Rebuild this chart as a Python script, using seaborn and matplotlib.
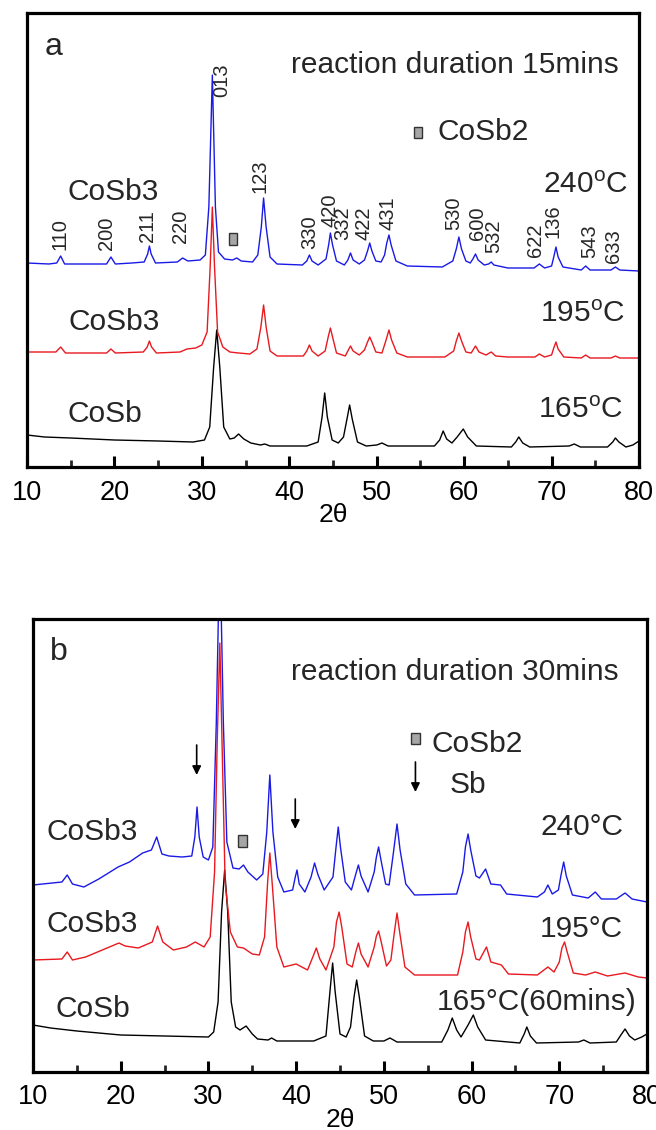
import matplotlib
matplotlib.use("Agg")
import matplotlib.pyplot as plt
from matplotlib.patches import Rectangle
import seaborn as sns
import pandas as pd

# ---------------- data (2theta, intensity in arbitrary units) ----------------
blue_a = [(10, 204), (12.5, 203), (13.4, 204), (13.85, 211), (14.3, 203), (17, 203), (19.1, 203), (19.6, 210),
          (20.1, 203), (22, 204), (23.4, 205), (23.8, 213), (24.0, 221), (24.2, 213), (24.7, 204), (27.2, 205),
          (27.8, 209), (28.4, 206), (29.8, 207), (30.4, 212), (30.8, 260), (31.2, 392), (31.55, 260), (31.9, 215),
          (32.6, 208), (33.5, 207), (34.0, 209), (34.5, 206), (35.8, 205), (36.4, 212), (36.8, 240), (37.06, 269),
          (37.35, 240), (37.8, 210), (38.6, 203), (41.5, 202), (42.0, 206), (42.3, 212), (42.6, 206), (43.3, 202),
          (44.2, 208), (44.5, 222), (44.7, 234), (44.95, 222), (45.4, 206), (46.3, 202), (46.7, 207), (47.0, 214),
          (47.3, 207), (48.0, 203), (48.6, 207), (48.95, 216), (49.2, 224), (49.45, 216), (49.9, 206), (50.5, 205),
          (50.9, 212), (51.15, 224), (51.4, 232), (51.65, 222), (52.2, 206), (53.5, 201), (57.5, 200), (58.7, 206),
          (59.1, 218), (59.4, 230), (59.7, 218), (60.2, 206), (60.7, 204), (61.0, 208), (61.3, 213), (61.6, 207),
          (62.3, 202), (62.8, 203), (63.1, 205), (63.4, 202), (65.0, 199), (68.0, 199), (68.6, 203), (69.2, 199),
          (70.0, 201), (70.25, 210), (70.5, 220), (70.75, 210), (71.3, 200), (73.4, 197), (73.9, 201), (74.4, 197),
          (76.8, 197), (77.3, 200), (77.8, 197), (80, 196)]
red_a = [(10, 115), (13.3, 115), (13.85, 120), (14.4, 114), (19.1, 114), (19.6, 118), (20.1, 114), (23.3, 115),
         (23.75, 120), (24.0, 126), (24.25, 120), (24.8, 114), (27.5, 115), (28.3, 118), (29.3, 119), (30.0, 122),
         (30.6, 135), (30.95, 200), (31.2, 260), (31.45, 200), (31.8, 135), (32.4, 120), (33.2, 115), (34.2, 114),
         (35.5, 113), (36.3, 118), (36.75, 140), (37.06, 162), (37.35, 140), (37.8, 116), (38.6, 111), (41.6, 111),
         (42.0, 116), (42.3, 122), (42.6, 116), (43.3, 111), (44.1, 116), (44.45, 130), (44.7, 139), (44.95, 130),
         (45.4, 114), (46.4, 111), (46.7, 116), (47.0, 121), (47.3, 116), (48.0, 112), (48.6, 117), (48.95, 125),
         (49.2, 130), (49.45, 125), (49.9, 115), (50.6, 114), (51.0, 125), (51.4, 137), (51.7, 127), (52.3, 114),
         (53.5, 110), (57.8, 110), (58.8, 116), (59.1, 126), (59.4, 134), (59.7, 126), (60.2, 115), (60.8, 114),
         (61.3, 121), (61.7, 115), (62.5, 112), (63.1, 115), (63.6, 111), (65.0, 110), (68.1, 110), (68.6, 113),
         (69.2, 110), (70.0, 112), (70.25, 119), (70.5, 125), (70.75, 118), (71.4, 110), (73.4, 109), (73.9, 112),
         (74.4, 109), (76.8, 109), (77.3, 111), (77.8, 109), (80, 109)]
black_a = [(10, 32), (12, 30), (15, 29), (20, 27), (25, 26), (29, 25), (30.3, 27), (30.9, 40), (31.35, 100),
           (31.7, 137), (32.05, 100), (32.5, 40), (33.2, 28), (33.7, 29), (34.2, 33), (34.8, 28), (35.6, 24),
           (36.7, 22), (37.2, 23), (37.8, 21), (42.0, 21), (43.3, 25), (43.75, 50), (44.05, 74), (44.35, 50),
           (44.9, 27), (45.6, 24), (46.2, 30), (46.6, 48), (46.9, 62), (47.2, 48), (47.8, 25), (48.8, 21), (50.0, 22),
           (50.6, 24), (51.3, 21), (56.6, 21), (57.2, 27), (57.6, 36), (58.0, 28), (58.6, 24), (59.2, 30), (59.9, 38),
           (60.4, 30), (61.4, 21), (65.4, 20), (65.9, 25), (66.25, 30), (66.7, 24), (67.5, 20), (72.0, 21),
           (72.6, 23), (73.3, 20), (76.4, 20), (77.0, 25), (77.3, 29), (77.7, 25), (78.5, 20), (79.3, 22), (80, 26)]

blue_b = [(10, 187), (13.3, 190), (13.9, 197), (14.5, 188), (15.8, 185), (17.5, 193), (19.7, 205), (21, 210),
          (22.5, 219), (23.5, 222), (24.1, 235), (24.7, 218), (25.5, 216), (27.0, 215), (28.1, 216), (28.45, 235),
          (28.7, 265), (28.95, 235), (29.4, 215), (30.0, 212), (30.5, 225), (30.9, 350), (31.3, 530), (31.7, 350),
          (32.1, 230), (32.8, 204), (33.5, 203), (34.0, 207), (34.5, 200), (35.5, 192), (36.2, 198), (36.65, 240),
          (37.0, 297), (37.35, 240), (37.9, 195), (38.6, 180), (39.6, 182), (39.9, 195), (40.1, 202), (40.35, 188),
          (41.0, 180), (41.7, 195), (42.1, 209), (42.5, 197), (43.2, 182), (44.2, 195), (44.55, 225), (44.8, 245),
          (45.05, 225), (45.6, 190), (46.3, 182), (46.8, 198), (47.1, 207), (47.4, 196), (48.2, 180), (48.9, 200),
          (49.15, 215), (49.4, 225), (49.65, 213), (50.2, 188), (50.6, 187), (51.1, 220), (51.5, 248), (51.85, 222),
          (52.5, 188), (53.5, 177), (58.3, 178), (59.0, 200), (59.3, 225), (59.6, 238), (59.9, 222), (60.5, 196),
          (60.9, 194), (61.6, 203), (62.2, 188), (63.3, 187), (64.0, 178), (67.5, 175), (68.3, 180), (68.7, 187),
          (69.2, 178), (69.9, 182), (70.2, 197), (70.5, 210), (70.8, 196), (71.5, 177), (73.3, 174), (74.1, 180),
          (74.8, 173), (76.5, 173), (77.5, 179), (78.3, 173), (80, 170)]
red_b = [(10, 112), (13.3, 113), (13.9, 120), (14.5, 112), (16, 115), (19.8, 129), (20.5, 126), (22.0, 124),
         (23.6, 130), (24.2, 146), (24.8, 130), (26.0, 122), (27.5, 125), (28.5, 130), (29.5, 125), (30.2, 135),
         (30.7, 200), (31.0, 330), (31.3, 429), (31.55, 330), (31.9, 190), (32.5, 140), (33.3, 125), (34.0, 124),
         (35.0, 118), (35.8, 117), (36.4, 135), (36.75, 190), (37.0, 219), (37.3, 185), (37.8, 125), (38.6, 105),
         (40.0, 108), (41.3, 102), (41.9, 115), (42.3, 124), (42.7, 113), (43.4, 102), (44.3, 125), (44.6, 150),
         (44.9, 160), (45.2, 145), (45.8, 108), (46.4, 105), (46.8, 120), (47.1, 129), (47.4, 118), (48.2, 105),
         (48.9, 125), (49.15, 136), (49.4, 141), (49.7, 130), (50.3, 106), (50.8, 112), (51.2, 140), (51.5, 159),
         (51.8, 140), (52.4, 105), (53.5, 97), (58.4, 97), (59.0, 120), (59.3, 140), (59.6, 150), (59.9, 135),
         (60.5, 113), (60.9, 112), (61.7, 125), (62.2, 110), (63.4, 107), (64.2, 98), (67.5, 97), (68.7, 105),
         (69.4, 100), (70.0, 110), (70.3, 124), (70.6, 130), (70.9, 120), (71.6, 99), (73.0, 97), (74.1, 100),
         (75.5, 96), (77.5, 99), (79, 95), (80, 94)]
black_b = [(10, 47), (12, 44), (15, 41), (20, 37), (25, 36), (30, 35), (30.6, 40), (31.1, 70), (31.5, 160),
           (31.85, 202), (32.2, 160), (32.6, 70), (33.1, 45), (33.6, 42), (34.3, 46), (35.0, 38), (35.6, 33),
           (36.8, 32), (37.2, 34), (37.8, 31), (42.0, 31), (43.4, 36), (43.85, 80), (44.16, 109), (44.45, 80),
           (45.0, 38), (45.7, 35), (46.2, 45), (46.6, 75), (46.9, 92), (47.2, 75), (47.8, 36), (48.8, 31), (50.0, 31),
           (50.7, 34), (51.5, 30), (56.6, 30), (57.3, 42), (57.8, 54), (58.3, 42), (58.8, 35), (59.6, 47), (60.2, 57),
           (60.7, 45), (61.6, 32), (65.5, 29), (66.0, 38), (66.3, 45), (66.7, 36), (67.4, 29), (72.2, 30), (72.8, 32),
           (73.5, 29), (76.5, 30), (77.1, 38), (77.5, 43), (78.0, 36), (78.6, 32), (79.4, 35), (80, 38)]

hkl_labels = ["110", "200", "211", "220", "013", "123", "330", "420", "332", "422", "431",
              "530", "600", "532", "622", "136", "543", "633"]
hkl_pos = [13.8, 19.1, 23.8, 27.6, 32.3, 36.6, 42.3, 44.7, 46.1, 48.5, 51.3,
           58.8, 61.5, 63.4, 68.2, 70.2, 74.4, 77.1]
hkl_lvl = [217, 217, 225, 224, 370, 274, 218, 240, 227, 227, 237,
           237, 227, 214, 210, 229, 209, 204]

xticks = [10, 20, 30, 40, 50, 60, 70, 80]

# ---------------- style ----------------
sns.set_theme(style="white")
plt.rcParams["font.family"] = ["Liberation Sans", "DejaVu Sans"]
plt.rcParams["mathtext.fontset"] = "custom"
plt.rcParams["mathtext.rm"] = "Liberation Sans"
plt.rcParams["mathtext.it"] = "Liberation Sans"

FS = 21.5
fig = plt.figure(figsize=(6.56, 11.30), dpi=100)
ax_a = fig.add_axes([27 / 656, 1 - 467 / 1130, 612 / 656, 454 / 1130])
ax_b = fig.add_axes([33 / 656, 1 - 1072 / 1130, 614 / 656, 453 / 1130])


def draw(ax, series):
    for data, col in series:
        df = pd.DataFrame(data, columns=["tth", "I"])
        sns.lineplot(data=df, x="tth", y="I", ax=ax, color=col, lw=1.0,
                     estimator=None, sort=False, legend=False)


def style(ax, ymax):
    ax.set_xlim(10, 80)
    ax.set_ylim(0, ymax)
    ax.set_yticks([])
    ax.set_xticks(xticks)
    ax.set_xticks([15, 25, 35, 45, 55, 65, 75], minor=True)
    ax.set_xticklabels([str(t) for t in xticks])
    ax.tick_params(axis="x", which="major", direction="in", length=8, width=2.2,
                   labelsize=19.5, pad=9, bottom=True, colors="black")
    ax.tick_params(axis="x", which="minor", direction="in", length=5, width=2.0, bottom=True)
    for sp in ax.spines.values():
        sp.set_linewidth(2.3)
        sp.set_color("black")
        sp.set_visible(True)
    ax.set_xlabel("2θ", fontsize=19, labelpad=-2, color="black")
    ax.set_ylabel("")


def square(ax, x, y, w, h):
    ax.add_patch(Rectangle((x - w / 2, y - h / 2), w, h, facecolor="#a6a6a6",
                           edgecolor="#333333", lw=1.0, zorder=5))


# ---------------- panel a ----------------
draw(ax_a, [(black_a, "black"), (red_a, "#e8191f"), (blue_a, "#1a1ae6")])
style(ax_a, 454)
ax_a.text(12.06, 412, "a", fontsize=23, ha="left", va="baseline")
ax_a.text(77.7, 394, "reaction duration 15mins", fontsize=FS, ha="right", va="baseline")
square(ax_a, 54.7, 335, 0.95, 11)
ax_a.text(56.9, 327, "CoSb2", fontsize=FS, ha="left", va="baseline")
ax_a.text(78.7, 274, r"240$^{\mathrm{o}}$C", fontsize=FS, ha="right", va="baseline")
ax_a.text(14.6, 267, "CoSb3", fontsize=FS, ha="left", va="baseline")
ax_a.text(78.4, 145, r"195$^{\mathrm{o}}$C", fontsize=FS, ha="right", va="baseline")
ax_a.text(14.8, 137, "CoSb3", fontsize=FS, ha="left", va="baseline")
ax_a.text(78.2, 49, r"165$^{\mathrm{o}}$C", fontsize=FS, ha="right", va="baseline")
ax_a.text(14.6, 45, "CoSb", fontsize=FS, ha="left", va="baseline")
square(ax_a, 33.6, 228, 0.95, 12)
for lab, xp, yl in zip(hkl_labels, hkl_pos, hkl_lvl):
    ax_a.text(xp, yl, lab, rotation=90, fontsize=14.5, ha="center", va="bottom")

# ---------------- panel b ----------------
draw(ax_b, [(black_b, "black"), (red_b, "#e8191f"), (blue_b, "#1a1ae6")])
style(ax_b, 453)
ax_b.text(11.9, 412, "b", fontsize=23, ha="left", va="baseline")
ax_b.text(76.8, 392, "reaction duration 30mins", fontsize=FS, ha="right", va="baseline")
square(ax_b, 53.6, 334, 0.95, 11)
ax_b.text(55.4, 320, "CoSb2", fontsize=FS, ha="left", va="baseline")
arrow = dict(arrowstyle="-|>", color="black", lw=1.2, mutation_scale=13, shrinkA=0, shrinkB=0)
ax_b.annotate("", xy=(53.6, 280), xytext=(53.6, 310), arrowprops=arrow)
ax_b.text(57.5, 279, "Sb", fontsize=FS, ha="left", va="baseline")
ax_b.annotate("", xy=(28.66, 297), xytext=(28.66, 327), arrowprops=arrow)
ax_b.annotate("", xy=(39.9, 243), xytext=(39.9, 273), arrowprops=arrow)
ax_b.text(77.3, 237, "240°C", fontsize=FS, ha="right", va="baseline")
ax_b.text(11.5, 232, "CoSb3", fontsize=FS, ha="left", va="baseline")
square(ax_b, 33.9, 231, 0.95, 12)
ax_b.text(77.3, 135, "195°C", fontsize=FS, ha="right", va="baseline")
ax_b.text(11.5, 140, "CoSb3", fontsize=FS, ha="left", va="baseline")
ax_b.text(78.75, 62, "165°C(60mins)", fontsize=FS, ha="right", va="baseline")
ax_b.text(12.6, 55, "CoSb", fontsize=FS, ha="left", va="baseline")

fig.savefig("out.png", dpi=100)
